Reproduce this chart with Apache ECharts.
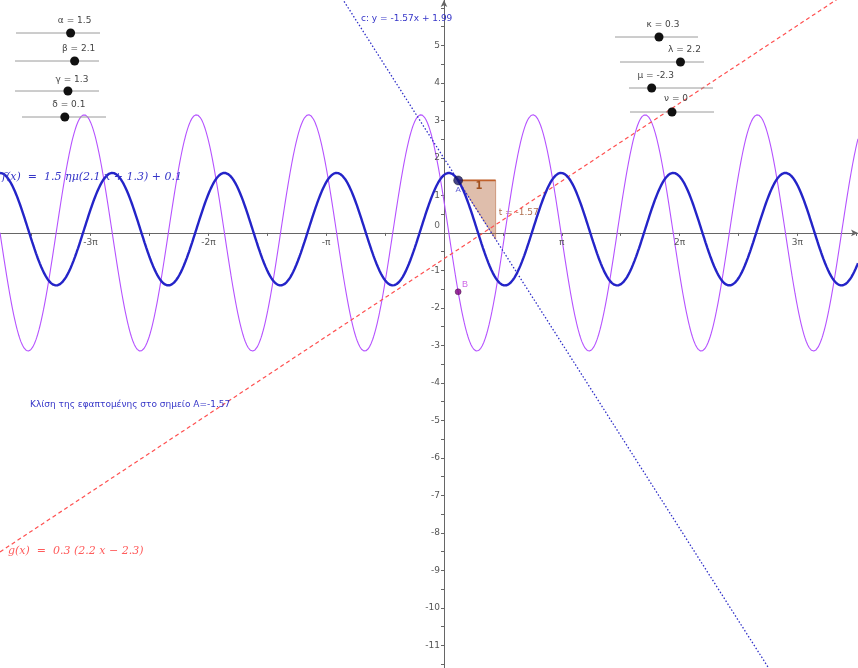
<!DOCTYPE html>
<html>
<head>
<meta charset="utf-8">
<script src="https://cdn.jsdelivr.net/npm/echarts@6/dist/echarts.min.js"></script>
<style>html,body{margin:0;padding:0;background:#fff}#c{width:858px;height:668px}</style>
</head>
<body>
<div id="c"></div>
<script>
// ---- data ----
// f(x) = a*sin(b*x + c) + d   (blue),  f'(x) (purple), g(x) = k*(l*x + m) (red dashed)
var sliderNames = ['α', 'β', 'γ', 'δ', 'κ', 'λ', 'μ', 'ν'];
var sliderValues = [1.5, 2.1, 1.3, 0.1, 0.3, 2.2, -2.3, 0];
var tangentSlope = [-1.57];
var tangentIntercept = [1.99];
var pointA = [0.377, 1.40];
var pointB = [0.377, -1.57];
var xRange = [-11.84, 11.04];
var yRange = [-11.6, 6.21];
var xLabelMultiples = [-3, -2, -1, 1, 2, 3];          // multiples of π
var xLabelTexts = ['-3π', '-2π', '-π', 'π', '2π', '3π'];
var xTickHalfMultiples = [-7,-6,-5,-4,-3,-2,-1,1,2,3,4,5,6,7]; // multiples of π/2
var yLabelValues = [-11,-10,-9,-8,-7,-6,-5,-4,-3,-2,-1,1,2,3,4,5];
var yTickValues = [];
for (var t = -23; t <= 12; t++) if (t !== 0) yTickValues.push(t / 2);

var al = sliderValues[0], be = sliderValues[1], ga = sliderValues[2], de = sliderValues[3];
var ka = sliderValues[4], la = sliderValues[5], mu = sliderValues[6];

var fData = [], dfData = [];
for (var i = 0; ; i++) {
  var x = xRange[0] + i * 0.02;
  if (x > xRange[1]) break;
  fData.push([x, al * Math.sin(be * x + ga) + de]);
  dfData.push([x, al * be * Math.cos(be * x + ga)]);
}
var gData = [[xRange[0], ka * (la * xRange[0] + mu)], [xRange[1], ka * (la * xRange[1] + mu)]];
var cData = [[xRange[0], tangentSlope[0] * xRange[0] + tangentIntercept[0]],
             [xRange[1], tangentSlope[0] * xRange[1] + tangentIntercept[0]]];

var xLabelData = xLabelMultiples.map(function (k, i) { return [k * Math.PI, 0, xLabelTexts[i]]; });
var yLabelData = yLabelValues.map(function (v) { return [0, v, String(v)]; });

// ---- layout for slider widgets (pixel positions) ----
var sliderLayout = [
  {x0: 16, x1: 100, y: 33, ly: 21},
  {x0: 15, x1: 99, y: 61, ly: 49},
  {x0: 15, x1: 99, y: 91, ly: 80},
  {x0: 22, x1: 106, y: 117, ly: 105},
  {x0: 615, x1: 698, y: 37, ly: 25},
  {x0: 620, x1: 704, y: 62, ly: 50},
  {x0: 629, x1: 713, y: 88, ly: 76},
  {x0: 630, x1: 714, y: 112, ly: 99}
];
var sliderMin = -5, sliderMax = 5;
var graphics = [];
sliderLayout.forEach(function (L, i) {
  var kx = L.x0 + (sliderValues[i] - sliderMin) / (sliderMax - sliderMin) * (L.x1 - L.x0);
  graphics.push({type: 'line', shape: {x1: L.x0, y1: L.y, x2: L.x1, y2: L.y}, style: {stroke: '#9a9a9a', lineWidth: 1}, z: 10});
  graphics.push({type: 'circle', shape: {cx: kx, cy: L.y, r: 4.5}, style: {fill: '#111'}, z: 11});
  graphics.push({type: 'text', x: kx + 4, y: L.ly, style: {text: sliderNames[i] + ' = ' + sliderValues[i], fill: '#444', font: '9px "DejaVu Sans"', align: 'center', verticalAlign: 'middle'}, z: 11});
});
graphics.push({type: 'text', x: 361, y: 19, style: {text: 'c: y = ' + tangentSlope[0] + 'x + ' + tangentIntercept[0], fill: '#3535c8', font: '9px "DejaVu Sans"', verticalAlign: 'middle'}, z: 11});
graphics.push({type: 'text', x: 2, y: 177, style: {text: 'f(x)  =  ' + al + ' ημ(' + be + ' x + ' + ga + ') + ' + de, fill: '#3535c8', font: 'italic 11px "DejaVu Serif"', verticalAlign: 'middle'}, z: 11});
graphics.push({type: 'text', x: 30, y: 405, style: {text: 'Κλίση της εφαπτομένης στο σημείο A=' + tangentSlope[0], fill: '#3535c8', font: '9px "DejaVu Sans"', verticalAlign: 'middle'}, z: 11});
graphics.push({type: 'text', x: 8, y: 551, style: {text: 'g(x)  =  ' + ka + ' (' + la + ' x − ' + (-mu) + ')', fill: '#ff5c5c', font: 'italic 11px "DejaVu Serif"', verticalAlign: 'middle'}, z: 11});
graphics.push({type: 'text', x: 437, y: 226, style: {text: '0', fill: '#666', font: '9px "DejaVu Sans"', align: 'center', verticalAlign: 'middle'}, z: 11});

var chart = echarts.init(document.getElementById('c'));
chart.setOption({
  animation: false,
  backgroundColor: '#fff',
  grid: {left: 0, right: 0, top: 0, bottom: 0, containLabel: false, outerBoundsMode: 'none'},
  xAxis: {
    type: 'value', min: xRange[0], max: xRange[1],
    splitLine: {show: false},
    axisLine: {onZero: true, lineStyle: {color: '#666', width: 1}, symbol: ['none', 'arrow'], symbolSize: [5, 7]},
    axisTick: {show: true, length: 3, lineStyle: {color: '#666'}, customValues: xTickHalfMultiples.map(function (k) { return k * Math.PI / 2; })},
    axisLabel: {show: false}
  },
  yAxis: {
    type: 'value', min: yRange[0], max: yRange[1],
    splitLine: {show: false},
    axisLine: {onZero: true, lineStyle: {color: '#666', width: 1}, symbol: ['none', 'arrow'], symbolSize: [5, 7]},
    axisTick: {show: true, length: 3, lineStyle: {color: '#666'}, customValues: yTickValues},
    axisLabel: {show: false}
  },
  graphic: graphics,
  series: [
    {type: 'custom', name: 'xlabels', z: 6, data: xLabelData, silent: true,
      renderItem: function (params, api) {
        var p = api.coord([api.value(0), 0]);
        return {type: 'text', x: p[0], y: p[1] + 10, style: {text: xLabelTexts[params.dataIndex], fill: '#555', font: '9px "DejaVu Sans"', align: 'center', verticalAlign: 'middle'}};
      }},
    {type: 'custom', name: 'ylabels', z: 6, data: yLabelData, silent: true,
      renderItem: function (params, api) {
        var p = api.coord([0, api.value(1)]);
        return {type: 'text', x: p[0] - 4, y: p[1], style: {text: String(yLabelValues[params.dataIndex]), fill: '#555', font: '9px "DejaVu Sans"', align: 'right', verticalAlign: 'middle'}};
      }},
    {type: 'custom', name: 'triangle', z: 1, data: [[pointA[0], pointA[1], tangentSlope[0]]],
      renderItem: function (params, api) {
        var ax = api.value(0), ay = api.value(1), s = api.value(2);
        var p1 = api.coord([ax, ay]), p2 = api.coord([ax + 1, ay]), p3 = api.coord([ax + 1, ay + s]);
        return {type: 'group', children: [
          {type: 'polygon', shape: {points: [p1, p2, p3]}, style: {fill: 'rgba(185,110,70,0.45)', stroke: 'rgba(185,110,70,0.6)', lineWidth: 1}},
          {type: 'line', shape: {x1: p1[0], y1: p1[1], x2: p2[0], y2: p2[1]}, style: {stroke: '#c0602a', lineWidth: 1.6}},
          {type: 'text', x: (p1[0] + p2[0]) / 2 + 2, y: p1[1] + 6, style: {text: '1', fill: '#a0501e', font: 'bold 10px "DejaVu Sans"', align: 'center', verticalAlign: 'middle'}},
          {type: 'text', x: p2[0] + 3, y: (p2[1] + p3[1]) / 2 + 3, style: {text: 't = ' + s, fill: '#b07050', font: '9px "DejaVu Sans"', verticalAlign: 'middle'}}
        ]};
      }},
    {type: 'line', name: 'df', data: dfData, showSymbol: false, symbol: 'none', z: 2,
      lineStyle: {color: '#b552ff', width: 1.1}},
    {type: 'line', name: 'g', data: gData, showSymbol: false, symbol: 'none', z: 3,
      lineStyle: {color: '#ff5050', width: 1.2, type: [4, 3]}},
    {type: 'line', name: 'c', data: cData, showSymbol: false, symbol: 'none', z: 3,
      lineStyle: {color: '#3030c8', width: 1.3, type: [1.5, 2]}},
    {type: 'line', name: 'f', data: fData, showSymbol: false, symbol: 'none', z: 4,
      lineStyle: {color: '#2424c8', width: 2.4}},
    {type: 'scatter', name: 'A', data: [pointA], symbolSize: 9, z: 5,
      itemStyle: {color: '#15156e', borderColor: '#000', borderWidth: 0.5},
      label: {show: true, formatter: 'A', position: [2, 10], color: '#3535c8', fontSize: 8}},
    {type: 'scatter', name: 'B', data: [pointB], symbolSize: 6, z: 5,
      itemStyle: {color: '#800080', borderColor: '#300030', borderWidth: 0.5},
      label: {show: true, formatter: 'B', position: [7, -9], color: '#c040e0', fontSize: 9}}
  ]
});
</script>
</body>
</html>
